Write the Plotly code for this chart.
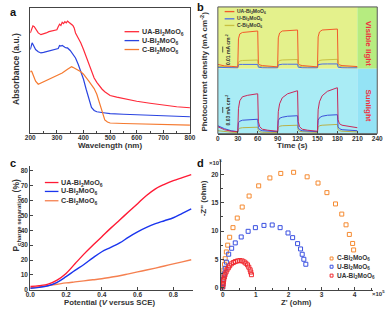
import plotly.graph_objects as go

W, H = 392, 312
def X(px): return px / W
def Y(py): return 1 - py / H

# ---------------- Panel a data ----------------
wl_UA = [200,205,210,215,220,230,240,250,260,270,280,290,300,305,310,315,320,325,330,335,340,345,350,355,360,365,370,380,390,400,410,420,430,440,450,460,470,480,490,500,525,550,600,650,700,750,800]
abs_UA = [0.80,0.84,0.857,0.85,0.83,0.80,0.786,0.79,0.80,0.81,0.815,0.82,0.825,0.85,0.87,0.86,0.885,0.875,0.89,0.88,0.895,0.885,0.875,0.865,0.86,0.84,0.80,0.76,0.72,0.667,0.61,0.55,0.49,0.44,0.405,0.375,0.35,0.33,0.315,0.30,0.287,0.274,0.254,0.238,0.222,0.21,0.202]
wl_U = [200,204,207,210,215,220,230,240,250,260,280,300,305,310,315,320,325,330,335,340,350,360,370,380,390,400,410,420,430,440,450,475,500,550,600,650,700,750,800]
abs_U = [0.667,0.70,0.72,0.71,0.685,0.667,0.65,0.64,0.645,0.65,0.66,0.67,0.675,0.70,0.695,0.70,0.69,0.685,0.68,0.68,0.66,0.63,0.60,0.55,0.49,0.43,0.35,0.27,0.205,0.18,0.17,0.162,0.155,0.15,0.145,0.141,0.137,0.133,0.13]
wl_C = [200,203,206,210,215,220,230,240,250,260,280,300,320,340,350,355,360,370,380,390,400,410,420,430,440,450,460,470,480,490,500,550,600,650,700,750,800]
abs_C = [0.487,0.495,0.49,0.465,0.435,0.415,0.39,0.40,0.405,0.415,0.434,0.455,0.48,0.51,0.525,0.53,0.525,0.515,0.50,0.49,0.47,0.445,0.415,0.385,0.355,0.31,0.245,0.165,0.105,0.088,0.08,0.076,0.074,0.072,0.069,0.066,0.063]

# ---------------- Panel b data ----------------
t_b = [0,10,20,29.5,30,31,33,37,45,59.5,60,61,63,67,75,89.5,90,91,93,97,105,119.5,120,121,123,127,135,149.5,150,151,153,157,165,179.5,180,181,183,187,195,210]
vis_UA = [4,2.5,2,1.5, 1.5,30,35,36.5,37,38, 38,5,3.5,2.8,2.2,1.5, 1.5,31,36,38,38.5,39, 39,5,3.5,2.8,2.2,1.5, 1.5,32,37,39,39.5,40, 40,5,3.5,2.8,2.2,1.8]
vis_U = [1,0.7,0.5,0.5, 0.5,3.5,4,4,4,4, 4,1.2,0.8,0.6,0.5,0.5, 0.5,3.5,4,4.2,4.2,4.2, 4.2,1.2,0.8,0.6,0.5,0.5, 0.5,3.8,4.2,4.4,4.5,4.5, 4.5,1.2,0.8,0.6,0.5,0.5]
vis_C = [2,1.5,1.2,1, 1,6,7.5,8,8.2,8.5, 8.5,3,2,1.5,1.2,1, 1,6.5,8,8.5,8.8,9, 9,3,2,1.5,1.2,1, 1,6.5,8,8.5,9,9.2, 9.2,3,2,1.5,1.2,1]
sun_UA = [7,4,2.5,2, 2,25,33,37,38.5,40, 40,12,7,4.5,3.5,2.5, 2.5,22,30,36,40,43, 43,12,7,4.5,3.5,2.5, 2.5,24,32,38,42.5,46, 46,14,10,8.5,7.5,6]
sun_U = [8,5,3,2, 2,11,12.5,13.5,14,14.5, 14.5,6,4,3,2.5,2, 2,13,15.5,16.5,17.5,18, 18,6,4,3,2.5,2, 2,13.5,16,17.5,18.5,19, 19,7,5,4,3.5,3]
sun_C = [3,2,1.5,1.2, 1.2,4.5,5.5,6,6.2,6.5, 6.5,3,2,1.5,1.3,1.2, 1.2,6,7.5,8,8.2,8.5, 8.5,3.5,2.5,2,1.5,1.3, 1.3,6.5,8,8.5,9,9.3, 9.3,4,3,2.5,2,1.8]
light_split = [0, 210, 240]

# ---------------- Panel c data ----------------
pot = [0,0.05,0.1,0.15,0.2,0.25,0.3,0.35,0.4,0.45,0.5,0.55,0.6,0.65,0.7,0.75,0.8,0.85,0.9]
c_UA = [2.2,2.8,3.8,6.5,11,17.5,24,30,35.7,41.5,47,52.5,58,63.5,68,71,73.5,75.5,77.5]
c_U = [1.0,1.6,2.7,5,8.8,13,17,21.5,25.6,28.5,31.5,35.5,39,42,44.5,46.5,48.5,51.5,54.5]
c_C = [1.2,2.0,2.8,3.7,4.6,5.3,6.0,6.7,7.4,8.4,9.4,10.7,12,13.3,14.6,16,17.4,18.8,20.2]

# ---------------- Panel d data ----------------
zr_C = [0.0,0.005,0.015,0.035,0.054,0.074,0.11,0.15,0.21,0.31,0.44,0.59,0.80,1.09,1.43,1.76,2.15,2.56,2.89,3.16,3.42,3.61,3.74,3.84,3.94,3.97]
zi_C = [0.47,1.3,2.2,3.1,4.1,5.1,6.3,7.5,8.9,10.6,12.3,14.25,16.2,18.0,19.4,20.2,20.4,19.6,18.5,16.8,14.8,13.0,11.1,9.4,7.8,6.65]
zr_U = [0,0.005,0.025,0.044,0.074,0.11,0.18,0.27,0.38,0.56,0.77,0.99,1.25,1.50,1.74,1.98,2.12,2.27,2.36,2.41,2.46,2.52]
zi_U = [0.12,0.7,1.5,2.4,3.4,4.5,5.9,6.95,7.9,8.95,9.95,10.6,11.0,11.07,10.6,9.66,8.83,7.77,6.83,5.89,5.0,4.12]
zr_UA = [0,0.01,0.02,0.03,0.05,0.07,0.10,0.13,0.17,0.21,0.26,0.32,0.38,0.45,0.52,0.59,0.65,0.70,0.75,0.79,0.83,0.85,0.87]
zi_UA = [0.12,0.58,1.0,1.4,1.86,2.27,2.73,3.14,3.49,3.84,4.19,4.42,4.59,4.71,4.77,4.71,4.53,4.30,4.01,3.60,3.14,2.73,2.27]

series_names = ["UA-Bi<sub>2</sub>MoO<sub>6</sub>", "U-Bi<sub>2</sub>MoO<sub>6</sub>", "C-Bi<sub>2</sub>MoO<sub>6</sub>"]

FONT = "Liberation Sans, Arial, sans-serif"
AX = "#444444"
TXT = "#333333"

fig = go.Figure()

# panel a
col_a = ["#ff2a3a", "#2a44e0", "#f57a30"]
for xs, ys, c, n in [(wl_UA, abs_UA, col_a[0], series_names[0]), (wl_U, abs_U, col_a[1], series_names[1]), (wl_C, abs_C, col_a[2], series_names[2])]:
    fig.add_trace(go.Scatter(x=xs, y=ys, mode="lines", line=dict(color=c, width=1.2), name=n, xaxis="x", yaxis="y", showlegend=False))

# panel b
col_bv = ["#f25a2a", "#4a6ee8", "#c8c040"]
col_bs = ["#c8285a", "#3a50d8", "#b8b048"]
for ys, c in [(vis_C, col_bv[2]), (vis_U, col_bv[1]), (vis_UA, col_bv[0])]:
    fig.add_trace(go.Scatter(x=t_b, y=ys, mode="lines", line=dict(color=c, width=1), xaxis="x2", yaxis="y2", showlegend=False))
for ys, c in [(sun_C, col_bs[2]), (sun_U, col_bs[1]), (sun_UA, col_bs[0])]:
    fig.add_trace(go.Scatter(x=t_b, y=ys, mode="lines", line=dict(color=c, width=1), xaxis="x2", yaxis="y3", showlegend=False))

# panel c
col_c = ["#ff1a35", "#1a35ee", "#f58050"]
for ys, c in [(c_C, col_c[2]), (c_U, col_c[1]), (c_UA, col_c[0])]:
    fig.add_trace(go.Scatter(x=pot, y=ys, mode="lines", line=dict(color=c, width=1.4, shape="spline"), xaxis="x4", yaxis="y4", showlegend=False))

# panel d
col_d = ["#f58a30", "#3a50e0", "#f02a30"]
for xs, ys, c in [(zr_C, zi_C, col_d[0]), (zr_U, zi_U, col_d[1]), (zr_UA, zi_UA, col_d[2])]:
    fig.add_trace(go.Scatter(x=xs, y=ys, mode="markers", marker=dict(symbol="square-open", size=4, color=c, line=dict(width=1, color=c)), xaxis="x5", yaxis="y5", showlegend=False))

tickf = dict(family=FONT, size=6.5, color=TXT, weight="bold")
common = dict(showline=True, linecolor=AX, linewidth=1, showgrid=False, zeroline=False, tickfont=tickf, ticks="inside", ticklen=3, tickcolor=AX)
xcommon = dict(ticklabelstandoff=-2, **common)

fig.update_layout(
    width=W, height=H, margin=dict(l=0, r=0, t=0, b=0),
    paper_bgcolor="white", plot_bgcolor="rgba(0,0,0,0)",
    xaxis=dict(domain=[X(26), X(190.3)], anchor="y", range=[200, 800], tick0=200, dtick=100, mirror=True,
               minor=dict(ticks="inside", ticklen=2, dtick=50, tickcolor=AX), **xcommon),
    yaxis=dict(domain=[Y(134.3), Y(8)], anchor="x", range=[0, 1], showline=True, mirror=True, linecolor=AX, linewidth=1,
               showticklabels=False, ticks="", showgrid=False, zeroline=False),
    xaxis2=dict(domain=[X(219), X(383)], anchor="y3", range=[0, 240], tick0=0, dtick=30, **xcommon),
    yaxis2=dict(domain=[Y(69.5), Y(7)], anchor="x2", range=[-0.5, 62.5], showticklabels=False, ticks="", showgrid=False, zeroline=False),
    yaxis3=dict(domain=[Y(135), Y(69.5)], anchor="x2", range=[0, 65], showticklabels=False, ticks="", showgrid=False, zeroline=False),
    xaxis4=dict(domain=[X(26), X(193)], anchor="y4", range=[0, 0.9076], tickvals=[0, 0.2, 0.4, 0.6, 0.8],
                ticktext=["0.0", "0.2", "0.4", "0.6", "0.8"], **xcommon),
    yaxis4=dict(domain=[Y(292.7), Y(168)], anchor="x4", range=[-0.1, 83.1], tick0=0, dtick=10, **common),
    xaxis5=dict(domain=[X(222), X(378.7)], anchor="y5", range=[-0.06, 4.56], tick0=0, dtick=1,
                minor=dict(ticks="inside", ticklen=2, dtick=0.5, tickcolor=AX), **xcommon),
    yaxis5=dict(domain=[Y(292.7), Y(162)], anchor="x5", range=[-0.42, 22.5], tick0=0, dtick=5,
                minor=dict(ticks="inside", ticklen=2, dtick=2.5, tickcolor=AX), **common),
)

shapes = []
# panel b backgrounds
bg_top = ["#e4f18c", "#b6ec80"]
bg_bot = ["#a9ecf5", "#94e3f5"]
for i in range(2):
    shapes.append(dict(type="rect", xref="x2", yref="y2 domain", x0=light_split[i], x1=light_split[i+1], y0=0, y1=1,
                       fillcolor=bg_top[i], line=dict(width=0), layer="below"))
    shapes.append(dict(type="rect", xref="x2", yref="y3 domain", x0=light_split[i], x1=light_split[i+1], y0=0, y1=1,
                       fillcolor=bg_bot[i], line=dict(width=0), layer="below"))
shapes.append(dict(type="rect", xref="paper", yref="paper", x0=X(219), x1=X(383), y0=Y(135), y1=Y(7),
                   line=dict(color="#555555", width=1), fillcolor="rgba(0,0,0,0)"))
# scale arrows in b
for yc in [50, 111]:
    shapes.append(dict(type="line", xref="paper", yref="paper", x0=X(224), x1=X(224), y0=Y(yc - 3), y1=Y(yc + 3),
                       line=dict(color="#333", width=0.8)))

annotations = []
def ann(text, x, y, size=8, color=TXT, angle=0, xanchor="center", bold=True, yanchor="middle"):
    annotations.append(dict(text=(f"<b>{text}</b>" if bold else text), x=X(x), y=Y(y), xref="paper", yref="paper",
                            showarrow=False, textangle=angle, xanchor=xanchor, yanchor=yanchor, borderpad=0,
                            font=dict(family=FONT, size=size, color=color)))

def legend_lines(x0, x1, xt, rows, colors, size, names):
    for r, c, n in zip(rows, colors, names):
        shapes.append(dict(type="line", xref="paper", yref="paper", x0=X(x0), x1=X(x1), y0=Y(r), y1=Y(r),
                           line=dict(color=c, width=1.3)))
        ann(n, xt, r, size=size, xanchor="left")

# panel a
legend_lines(123, 138, 140, [32, 41, 50], col_a, 7.2, series_names)
ann("a", 9, 12, size=11, color="#111")
ann("Wavelength (nm)", 108, 147, size=8)
ann("Absorbance (a.u.)", 12, 70, size=8.5, angle=-90)

# panel b
legend_lines(226, 236, 238, [11.7, 19, 25.7], col_bv, 5, series_names)
ann("b", 201, 7, size=11, color="#111")
ann("Photocurrent density (mA cm<sup>-2</sup>)", 205, 72, size=8, angle=-90)
ann("Time (s)", 296, 147, size=8)
ann("Visible light", 374, 44, size=8, color="#f03040", angle=90)
ann("Sunlight", 374, 106, size=8, color="#f03040", angle=90)
ann("0.01 mA cm<sup>-2</sup>", 229, 50, size=5, angle=-90)
ann("0.03 mA cm<sup>-2</sup>", 229, 111, size=5, angle=-90)

# panel c
legend_lines(41, 55, 57, [184.3, 193.3, 202.7], col_c, 7.2, series_names)
ann("c", 8, 165, size=11, color="#111")
ann("P<sub>charge separation</sub> (%)", 12, 217, size=8.5, angle=-90)
ann("Potential (<i>V</i> versus SCE)", 108, 305, size=7.8)

# panel d
d_names = [series_names[2], series_names[1], series_names[0]]
for r, c, n in zip([261, 269.3, 278.3], col_d, d_names):
    shapes.append(dict(type="rect", xref="paper", yref="paper", x0=X(334.5), x1=X(337.5), y0=Y(r + 1.5), y1=Y(r - 1.5),
                       line=dict(color=c, width=1), fillcolor="rgba(0,0,0,0)"))
    ann(n, 341, r, size=6.5, xanchor="left")
ann("d", 201, 165, size=11, color="#111")
ann("×10<sup>5</sup>", 217, 164, size=6)
ann("×10<sup>5</sup>", 384, 296, size=6)
ann("-Z'' (ohm)", 204, 200, size=8, angle=-90)
ann("Z' (ohm)", 300, 305, size=7.8)

fig.update_layout(shapes=shapes, annotations=annotations)
fig.write_html("out.html", config={"displayModeBar": False},
               post_script="document.body.style.margin='0';document.body.style.overflow='hidden';")
